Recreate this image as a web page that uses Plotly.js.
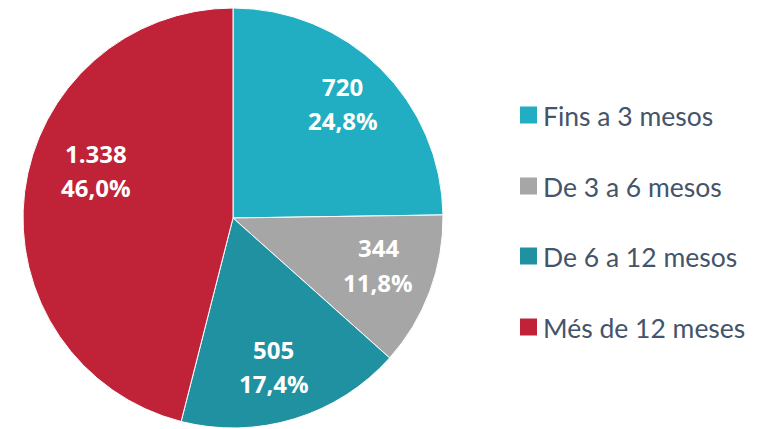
<!DOCTYPE html>
<html><head><meta charset="utf-8">
<script src="https://cdn.plot.ly/plotly-3.0.1.min.js"></script>
<style>html,body{margin:0;padding:0;background:#fff}</style>
</head><body>
<div id="chart" style="width:760px;height:429px"></div>
<script>
const categories = ["Fins a 3 mesos", "De 3 a 6 mesos", "De 6 a 12 mesos", "Més de 12 meses"];
const values = [720, 344, 505, 1338];
const colors = ["#22AEC2", "#A6A6A6", "#1F91A0", "#C02337"];

// pie geometry in pixels
const W = 760, H = 429;
const cx = 233, cy = 218, R = 210;
// label radius fraction and angle nudge per slice (layout only)
const labelR = [0.75, 0.73, 0.74, 0.69];
const labelDA = [-0.4, -2.1, 1.8, 11.3];
const lineGap = 34.5;

const trace = {
  type: "pie",
  labels: categories,
  values: values,
  sort: false,
  direction: "clockwise",
  rotation: 0,
  marker: {colors: colors, line: {color: "#ffffff", width: 1}},
  textinfo: "none",
  hoverinfo: "none",
  domain: {x: [(cx - R)/W, (cx + R)/W], y: [(H - cy - R)/H, (H - cy + R)/H]},
  showlegend: false
};

const total = values.reduce((a, b) => a + b, 0);
const fmtInt = v => String(v).replace(/\B(?=(\d{3})+(?!\d))/g, ".");
const fmtPct = v => (v * 100).toFixed(1).replace(".", ",") + "%";

const shapes = [];
const annotations = [];
const lblFont = {family: "'Open Sans', sans-serif", size: 24, color: "#ffffff", weight: "bold"};
let cum = 0;
values.forEach((v, i) => {
  const frac = v / total;
  const mid = (cum + frac / 2) * 360 + labelDA[i];
  cum += frac;
  const a = mid * Math.PI / 180;
  const px = cx + labelR[i] * R * Math.sin(a);
  const py = cy - labelR[i] * R * Math.cos(a) - 1.5;
  [[fmtInt(v), -lineGap / 2], [fmtPct(frac), lineGap / 2]].forEach(([t, off]) => {
    annotations.push({xref: "paper", yref: "paper", x: px / W, y: 1 - (py + off) / H,
      xanchor: "center", yanchor: "middle", showarrow: false, text: t, font: lblFont});
  });
});

const legendY = [115, 186, 256, 327];
categories.forEach((c, i) => {
  const yc = 1 - legendY[i] / H;
  shapes.push({type: "rect", xref: "paper", yref: "paper",
    x0: 520/W, x1: 537/W, y0: yc - 8.5/H, y1: yc + 8.5/H,
    fillcolor: colors[i], line: {width: 0}});
  annotations.push({xref: "paper", yref: "paper", x: 541/W, y: yc - 1/H,
    xanchor: "left", yanchor: "middle", showarrow: false, text: c,
    font: {family: "Lato, 'Open Sans', sans-serif", size: 26.5, color: "#44546A"}});
});

const layout = {
  width: W, height: H,
  margin: {l: 0, r: 0, t: 0, b: 0},
  paper_bgcolor: "#ffffff",
  shapes: shapes,
  annotations: annotations,
  showlegend: false
};
Plotly.newPlot("chart", [trace], layout, {staticPlot: true});
</script>
</body></html>
